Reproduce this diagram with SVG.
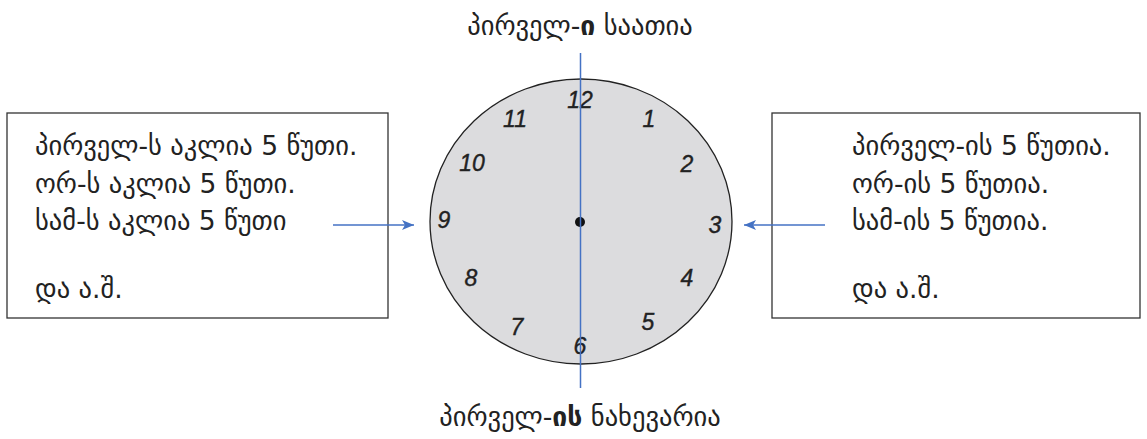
<svg xmlns="http://www.w3.org/2000/svg" width="1147" height="439" viewBox="0 0 1147 439">
<style>
.t{font-family:"DejaVu Sans","Noto Sans",sans-serif;font-size:26.5px;fill:#222}
.n{font-family:"Liberation Sans",sans-serif;font-style:italic;font-size:23px;fill:#222;stroke:#222;stroke-width:0.4;text-anchor:middle;dominant-baseline:central}
.box{fill:#fff;stroke:#333;stroke-width:1.3}
.conn{stroke:#4472c4;stroke-width:1.5;fill:none}
</style>
<defs>
<marker id="ah" viewBox="0 0 12 10" refX="12" refY="5" markerWidth="13" markerHeight="10" orient="auto" markerUnits="userSpaceOnUse">
<path d="M0,0 L12,5 L0,10 L3,5 z" fill="#4472c4"/>
</marker>
</defs>
<g id="title-top"><text class="t" x="580" y="35" text-anchor="middle">პირველ-<tspan font-weight="bold">ი</tspan> საათია</text></g>
<g id="title-bottom"><text class="t" x="580" y="426" text-anchor="middle">პირველ-<tspan font-weight="bold">ის</tspan> ნახევარია</text></g>
<g id="left-box">
<rect class="box" x="7" y="113" width="381" height="205"/>
<text class="t" x="35" y="155">პირველ-ს აკლია 5 წუთი.</text>
<text class="t" x="35" y="193">ორ-ს აკლია 5 წუთი.</text>
<text class="t" x="35" y="230">სამ-ს აკლია 5 წუთი</text>
<text class="t" x="35" y="298">და ა.შ.</text>
</g>
<g id="right-box">
<rect class="box" x="772" y="113" width="368" height="205"/>
<text class="t" x="852" y="155">პირველ-ის  5 წუთია.</text>
<text class="t" x="852" y="193">ორ-ის 5 წუთია.</text>
<text class="t" x="852" y="230">სამ-ის 5 წუთია.</text>
<text class="t" x="852" y="298">და ა.შ.</text>
</g>
<g id="clock">
<ellipse cx="581" cy="221.5" rx="151" ry="142.5" fill="#dcdcde" stroke="#222" stroke-width="1.3"/>
<text class="n" x="580" y="100">12</text>
<text class="n" x="649" y="119">1</text>
<text class="n" x="687" y="164">2</text>
<text class="n" x="715" y="225">3</text>
<text class="n" x="687" y="278">4</text>
<text class="n" x="648" y="322">5</text>
<text class="n" x="580" y="346">6</text>
<text class="n" x="517" y="327">7</text>
<text class="n" x="471" y="278">8</text>
<text class="n" x="444" y="220">9</text>
<text class="n" x="472" y="163">10</text>
<text class="n" x="515" y="119">11</text>
<circle cx="580" cy="222" r="5" fill="#111"/>
</g>
<g id="connectors">
<line class="conn" x1="580.5" y1="53" x2="580.5" y2="388"/>
<line class="conn" x1="333" y1="225" x2="414" y2="225" marker-end="url(#ah)"/>
<line class="conn" x1="825" y1="225" x2="744" y2="225" marker-end="url(#ah)"/>
</g>
</svg>
